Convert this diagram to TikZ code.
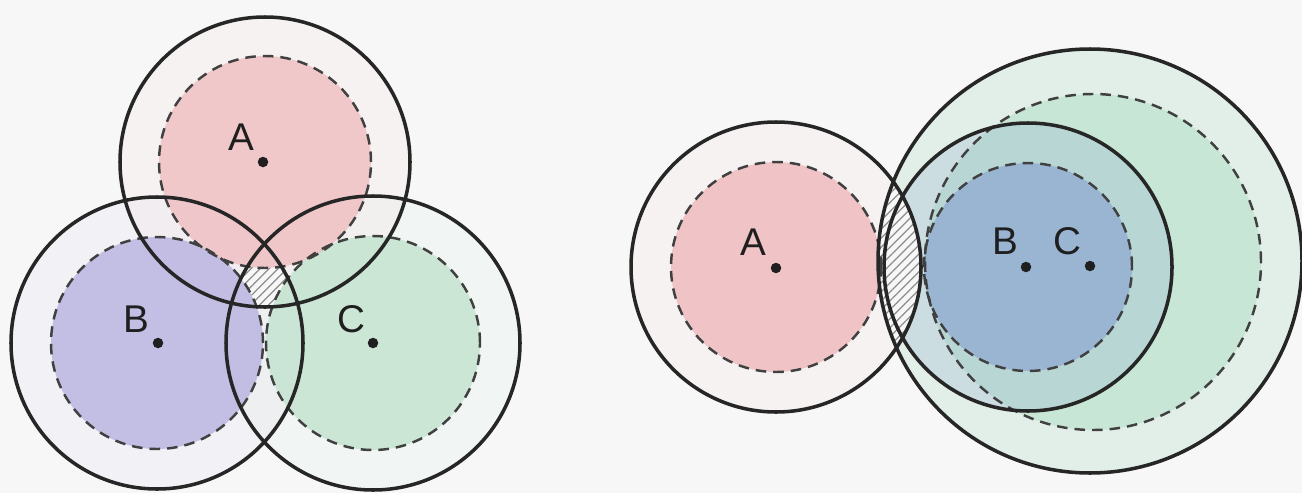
\documentclass[tikz,border=0pt]{standalone}
\usepackage{fontspec}
\setmainfont{Liberation Sans}
\usetikzlibrary{patterns.meta}
\definecolor{bg}{HTML}{F7F7F7}
\definecolor{pinkA}{HTML}{EFB8BB}
\definecolor{purpB}{HTML}{B4AEDF}
\definecolor{grnC}{HTML}{BFE2CC}
\definecolor{blueB}{HTML}{8EA9D0}
\definecolor{grnR}{HTML}{BFE3D1}
\tikzset{
  solidc/.style={draw=black!85, line width=1pt},
  dashc/.style={draw=black!75, line width=0.7pt, dash pattern=on 3pt off 2pt},
  ctr/.style={circle, fill=black!88, inner sep=0pt, minimum size=0.105cm},
  lbl/.style={font=\fontsize{11}{13}\selectfont, text=black!88, inner sep=0pt},
  hatchfill/.style={pattern={Lines[angle=45,distance=1.8pt,line width=0.35pt]}, pattern color=black!45},
}
\begin{document}
\begin{tikzpicture}[x=1cm,y=1cm]
\useasboundingbox (0,0) rectangle (13.02,4.93);
\fill[bg] (0,0) rectangle (13.02,4.93);
% centres
\coordinate (LA) at (2.65,3.31);
\coordinate (LB) at (1.57,1.50);
\coordinate (LC) at (3.73,1.50);
\coordinate (RA) at (7.76,2.26);
\coordinate (RB) at (10.28,2.26);
\coordinate (RC) at (10.90,2.32);
\coordinate (RCi) at (10.93,2.31);
% faint outer rings
\fill[pinkA, opacity=0.07] (LA) circle (1.45);
\fill[purpB, opacity=0.07] (LB) circle (1.46);
\fill[grnC, opacity=0.09] (LC) circle (1.47);
\fill[pinkA, opacity=0.07] (RA) circle (1.45);
\fill[grnR, opacity=0.38] (RC) circle (2.12);
\fill[grnR, opacity=0.75] (RCi) circle (1.68);
\fill[blueB, opacity=0.25] (RB) circle (1.44);
% inner fills
\fill[purpB, opacity=0.75] (LB) circle (1.06);
\fill[grnC, opacity=0.75] (LC) circle (1.07);
\fill[pinkA, opacity=0.72] (LA) circle (1.06);
\fill[pinkA, opacity=0.78] (RA) circle (1.05);
\fill[blueB, opacity=0.72] (RB) circle (1.04);
% hatched gap regions
\begin{scope}[even odd rule]
  \clip (LA) circle (1.45);
  \clip (LB) circle (1.46);
  \clip (LC) circle (1.47);
  \clip (0,0) rectangle (13.02,4.93) (LA) circle (1.06) (LB) circle (1.06) (LC) circle (1.07);
  \fill[bg] (0,0) rectangle (6,4.93);
  \fill[hatchfill] (0,0) rectangle (6,4.93);
\end{scope}
\begin{scope}[even odd rule]
  \clip (RA) circle (1.45);
  \clip (0,0) rectangle (13.02,4.93) (RA) circle (1.05) (RB) circle (1.04);
  \fill[bg] (RC) circle (2.12);
  \fill[hatchfill] (RC) circle (2.12);
  \fill[bg] (RB) circle (1.44);
  \fill[hatchfill] (RB) circle (1.44);
\end{scope}
% dashed inner circles
\draw[dashc] (LA) circle (1.06);
\draw[dashc] (LB) circle (1.06);
\draw[dashc] (LC) circle (1.07);
\draw[dashc] (RA) circle (1.05);
\draw[dashc] (RCi) circle (1.68);
\draw[dashc] (RB) circle (1.04);
% solid outer circles
\draw[solidc] (LA) circle (1.45);
\draw[solidc] (LB) circle (1.46);
\draw[solidc] (LC) circle (1.47);
\draw[solidc] (RA) circle (1.45);
\draw[solidc] (RB) circle (1.44);
\draw[solidc] (RC) circle (2.12);
% centre dots and labels
\node[ctr] (dLA) at (2.63,3.31) {};
\node[ctr] (dLB) at (1.58,1.50) {};
\node[ctr] (dLC) at (3.73,1.50) {};
\node[ctr] (dRA) at (7.76,2.25) {};
\node[ctr] (dRB) at (10.26,2.26) {};
\node[ctr] (dRC) at (10.90,2.27) {};
\node[lbl] (tLA) at (2.41,3.56) {A};
\node[lbl] (tLB) at (1.36,1.74) {B};
\node[lbl] (tLC) at (3.51,1.74) {C};
\node[lbl] (tRA) at (7.53,2.51) {A};
\node[lbl] (tRB) at (10.05,2.52) {B};
\node[lbl] (tRC) at (10.67,2.52) {C};
\end{tikzpicture}
\end{document}
